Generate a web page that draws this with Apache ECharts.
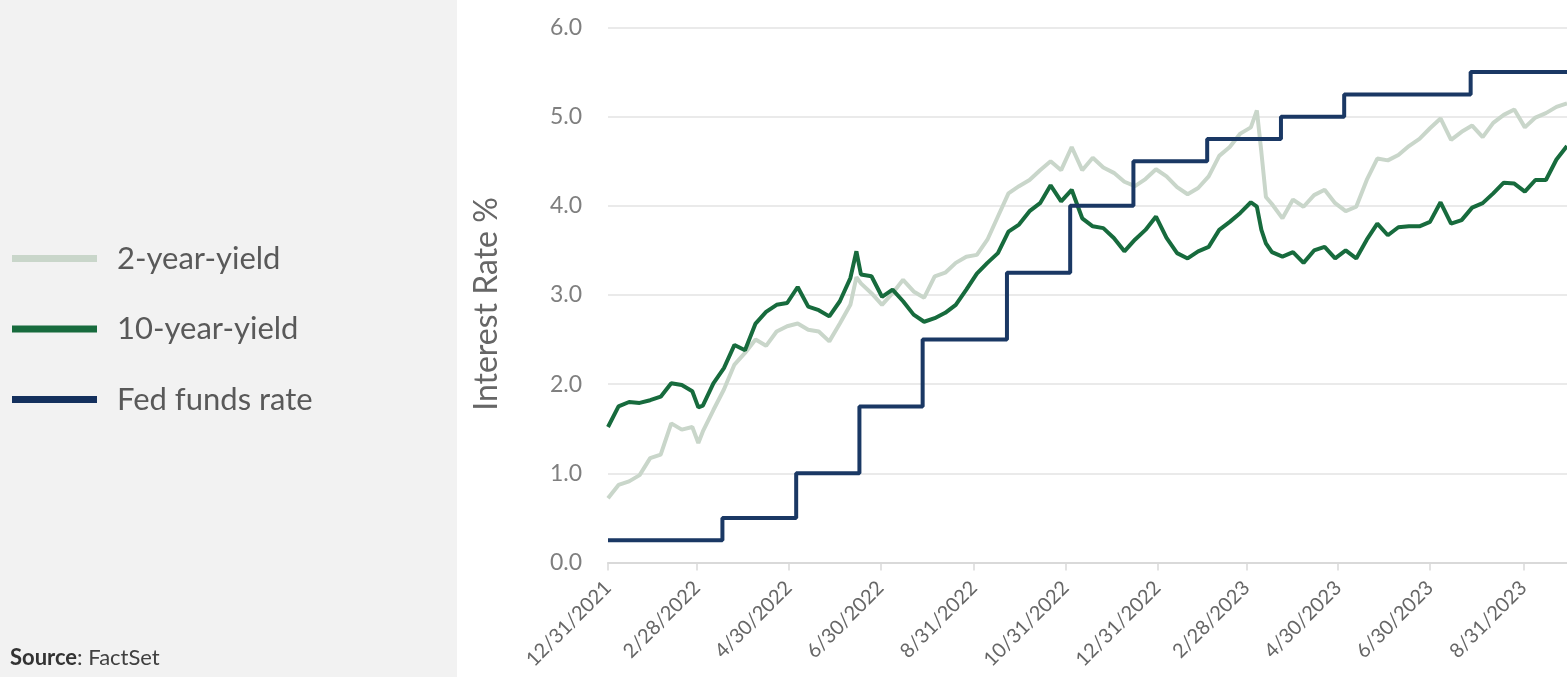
<!DOCTYPE html>
<html>
<head>
<meta charset="utf-8" />
<title>Interest rates</title>
<style>
html,body{margin:0;padding:0;background:#fff;}
#chart{width:1567px;height:677px;}
</style>
</head>
<body>
<div id="chart"></div>
<script src="https://cdn.jsdelivr.net/npm/echarts@6/dist/echarts.min.js"></script>
<script>
// weekly points (plus a few spike days)
var dates = [
	'2021-12-31','2022-01-07','2022-01-14','2022-01-21','2022-01-28','2022-02-04','2022-02-11','2022-02-18','2022-02-25','2022-03-01',
	'2022-03-04','2022-03-11','2022-03-18','2022-03-25','2022-04-01','2022-04-08','2022-04-15',
	'2022-04-22','2022-04-29','2022-05-06','2022-05-13','2022-05-20','2022-05-27','2022-06-03','2022-06-10','2022-06-14',
	'2022-06-17','2022-06-24','2022-07-01','2022-07-08','2022-07-15','2022-07-22','2022-07-29',
	'2022-08-05','2022-08-12','2022-08-19','2022-08-26','2022-09-02','2022-09-09','2022-09-16','2022-09-23','2022-09-30',
	'2022-10-07','2022-10-14','2022-10-21','2022-10-28','2022-11-04','2022-11-11',
	'2022-11-18','2022-11-25','2022-12-02','2022-12-09','2022-12-16','2022-12-23','2022-12-30','2023-01-06',
	'2023-01-13','2023-01-20','2023-01-27','2023-02-03','2023-02-10','2023-02-17','2023-02-24','2023-03-03',
	'2023-03-07','2023-03-10','2023-03-13','2023-03-17','2023-03-24','2023-03-31','2023-04-07','2023-04-14',
	'2023-04-21','2023-04-28','2023-05-05','2023-05-12','2023-05-19','2023-05-26','2023-06-02','2023-06-09',
	'2023-06-16','2023-06-23','2023-06-30','2023-07-07','2023-07-14','2023-07-21','2023-07-28','2023-08-04',
	'2023-08-11','2023-08-18','2023-08-25','2023-09-01','2023-09-08','2023-09-15','2023-09-22','2023-09-29'
];
var twoYear = [
	0.72,0.87,0.91,0.98,1.17,1.21,1.56,1.49,1.52,1.34,
	1.47,1.71,1.94,2.22,2.35,2.50,2.43,
	2.59,2.65,2.68,2.61,2.59,2.48,2.68,2.89,3.20,
	3.13,3.02,2.89,3.02,3.17,3.04,2.97,
	3.21,3.25,3.36,3.43,3.45,3.62,3.88,4.14,4.22,
	4.29,4.40,4.50,4.40,4.66,4.40,
	4.54,4.43,4.37,4.27,4.22,4.30,4.41,4.33,
	4.21,4.13,4.20,4.33,4.56,4.66,4.81,4.88,
	5.07,4.60,4.10,4.02,3.86,4.07,3.99,4.12,
	4.18,4.03,3.94,3.99,4.29,4.53,4.51,4.57,
	4.67,4.75,4.87,4.98,4.74,4.83,4.90,4.77,
	4.93,5.02,5.08,4.88,4.99,5.04,5.11,5.15
];
var tenYear = [
	1.52,1.75,1.80,1.79,1.82,1.86,2.01,1.99,1.92,1.74,
	1.76,2.01,2.18,2.44,2.38,2.68,2.81,
	2.89,2.91,3.09,2.87,2.83,2.76,2.93,3.19,3.49,
	3.23,3.21,2.98,3.06,2.93,2.78,2.70,
	2.74,2.80,2.89,3.06,3.24,3.36,3.47,3.71,3.79,
	3.94,4.03,4.23,4.05,4.18,3.86,
	3.77,3.75,3.64,3.49,3.62,3.73,3.88,3.64,
	3.47,3.41,3.49,3.54,3.73,3.82,3.92,4.04,
	3.99,3.73,3.58,3.48,3.43,3.48,3.36,3.50,
	3.54,3.41,3.50,3.41,3.62,3.80,3.67,3.76,
	3.77,3.77,3.82,4.04,3.80,3.84,3.98,4.03,
	4.14,4.26,4.25,4.16,4.29,4.29,4.52,4.67
];
var fedDates = ['2021-12-31','2022-03-17','2022-05-05','2022-06-16','2022-07-28','2022-09-22','2022-11-03',
	'2022-12-15','2023-02-02','2023-03-23','2023-05-04','2023-07-27','2023-09-29'];
var fedRate = [0.25,0.50,1.00,1.75,2.50,3.25,4.00,4.50,4.75,5.00,5.25,5.50,5.50];
var tickDates = ['2021-12-31','2022-02-28','2022-04-30','2022-06-30','2022-08-31','2022-10-31',
	'2022-12-31','2023-02-28','2023-04-30','2023-06-30','2023-08-31'];

var font = 'Lato, "Open Sans", sans-serif';

function toTime(s){
	var p = s.split('-');
	return new Date(+p[0], p[1] - 1, +p[2]).getTime();
}
function pairs(ds, vs){
	return ds.map(function(d, i){ return [toTime(d), vs[i]]; });
}

var chart = echarts.init(document.getElementById('chart'));
var option = {
	backgroundColor: '#fff',
	animation: false,
	graphic: [
		{type: 'rect', z: -10, shape: {x: 0, y: 0, width: 457, height: 677}, style: {fill: '#f2f2f2'}},
		{type: 'text', left: 10, top: 647, style: {
			text: '{b|Source}: FactSet', fill: '#404040', fontSize: 22, fontFamily: font,
			rich: {b: {fontWeight: 'bold', fontSize: 22, fontFamily: font, fill: '#333'}}
		}}
	],
	legend: {
		orient: 'vertical',
		left: 12,
		top: 243,
		padding: 0,
		icon: 'rect',
		itemWidth: 85,
		itemHeight: 7,
		itemGap: 39.5,
		textStyle: {fontSize: 31, lineHeight: 30, color: '#595959', fontFamily: font, padding: [0, 0, 0, 15]}
	},
	grid: {left: 608, right: 0, top: 27.5, bottom: 114.5},
	xAxis: {
		type: 'value',
		min: toTime('2021-12-31'),
		max: toTime('2023-09-29'),
		axisLine: {show: true, lineStyle: {color: '#d9d9d9', width: 2}},
		axisTick: {show: true, length: 8, lineStyle: {color: '#d9d9d9', width: 1.5}, customValues: tickDates.map(toTime)},
		axisLabel: {
			customValues: tickDates.map(toTime),
			rotate: 45,
			margin: 22,
			fontSize: 20,
			color: '#666',
			fontFamily: font,
			formatter: function(v){
				var d = new Date(v);
				return (d.getMonth() + 1) + '/' + d.getDate() + '/' + d.getFullYear();
			}
		},
		splitLine: {show: false}
	},
	yAxis: {
		type: 'value',
		min: 0,
		max: 6,
		interval: 1,
		name: 'Interest Rate %',
		nameLocation: 'middle',
		nameGap: 105,
		nameTextStyle: {fontSize: 32, color: '#666', fontFamily: font, padding: [0, 18, 0, 0]},
		axisLine: {show: false},
		axisTick: {show: false},
		axisLabel: {margin: 26, fontSize: 23, color: '#7f7f7f', fontFamily: font, formatter: function(v){ return v.toFixed(1); }},
		splitLine: {lineStyle: {color: '#e3e3e3', width: 1.5}}
	},
	series: [
		{
			name: '2-year-yield',
			type: 'line',
			data: pairs(dates, twoYear),
			showSymbol: false,
			color: '#c9d6ca',
			lineStyle: {width: 4, color: '#c9d6ca'}
		},
		{
			name: '10-year-yield',
			type: 'line',
			data: pairs(dates, tenYear),
			showSymbol: false,
			color: '#176b3d',
			lineStyle: {width: 4, color: '#176b3d'}
		},
		{
			name: 'Fed funds rate',
			type: 'line',
			step: 'end',
			data: pairs(fedDates, fedRate),
			showSymbol: false,
			color: '#14305d',
			lineStyle: {width: 4, color: '#1a3864'}
		}
	]
};
chart.setOption(option);
</script>
</body>
</html>
